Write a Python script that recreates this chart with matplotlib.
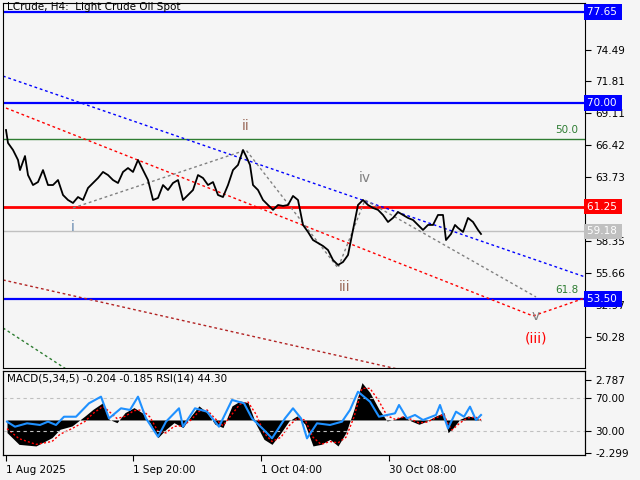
import matplotlib
matplotlib.use("Agg")
import matplotlib.pyplot as plt

# price path (bar position, price)
bar_x = [3, 5, 10, 15, 17, 22, 25, 30, 35, 40, 45, 50, 55, 60, 65, 70, 75, 80, 85, 90,
         95, 100, 105, 110, 115, 120, 125, 130, 135, 140, 145, 150, 155, 160, 165, 170,
         175, 180, 185, 190, 195, 200, 205, 210, 215, 220, 225, 230, 235, 240, 243, 247,
         250, 255, 260, 265, 270, 275, 280, 285, 290, 295, 300, 305, 310, 315, 320, 325,
         330, 335, 340, 345, 350, 355, 360, 365, 370, 375, 380, 385, 390, 395, 400, 405,
         410, 415, 420, 425, 430, 435, 440, 443, 448, 452, 455, 460, 465, 470, 475, 478]
close = [67.72, 66.63, 66.04, 65.20, 64.35, 65.53, 63.93, 63.09, 63.34, 64.35, 63.09, 63.09,
         63.51, 62.25, 61.83, 61.58, 62.08, 61.83, 62.84, 63.26, 63.68, 64.19, 63.93, 63.51,
         63.26, 64.19, 64.52, 64.19, 65.20, 64.35, 63.51, 61.83, 62.00, 63.09, 62.67, 63.26,
         63.51, 61.83, 62.25, 62.67, 63.93, 63.68, 63.09, 63.34, 62.25, 62.08, 63.09, 64.35,
         64.78, 66.04, 65.53, 64.78, 63.09, 62.67, 61.83, 61.41, 61.00, 61.41, 61.33, 61.41,
         62.17, 61.83, 59.73, 59.14, 58.46, 58.21, 57.96, 57.62, 56.78, 56.36, 56.61, 57.20,
         59.31, 61.41, 61.83, 61.41, 61.16, 61.00, 60.57, 59.98, 60.32, 60.82, 60.57, 60.32,
         60.15, 59.73, 59.31, 59.73, 59.73, 60.57, 60.57, 58.46, 58.97, 59.73, 59.48, 59.14,
         60.32, 59.98, 59.31, 58.97]

levels = {77.65: "#0000ff", 70.00: "#0000ff", 61.25: "#ff0000", 53.50: "#0000ff"}
last_price = 59.18
fib50 = 66.96
price_ticks = [74.49, 71.81, 69.11, 66.42, 63.73, 58.35, 55.66, 52.97, 50.28]

wave_x = [70, 243, 335, 362, 533]
wave_y = [61.16, 66.04, 56.11, 61.83, 53.67]
wave_names = ["i", "ii", "iii", "iv", "v"]

# indicator pane
macd_x = [4, 16, 33, 49, 57, 69, 82, 90, 100, 106, 114, 122, 131, 139, 147, 155, 163, 171,
          180, 188, 196, 204, 212, 220, 229, 237, 245, 253, 261, 269, 278, 286, 294, 302,
          310, 318, 327, 335, 343, 351, 359, 367, 376, 384, 392, 400, 408, 416, 424, 433,
          441, 445, 449, 457, 465, 473, 478]
macd = [-0.88, -1.70, -1.81, -1.23, -0.65, -0.42, 0.28, 0.74, 1.21, 0.05, -0.19, 0.51, 0.86,
        0.51, -0.19, -1.23, -0.65, -0.19, -0.53, 0.28, 0.98, 0.51, -0.30, -0.53, 0.98, 1.32,
        1.21, -0.30, -1.35, -1.70, -0.88, -0.07, 0.28, -0.30, -1.81, -1.70, -1.35, -1.81,
        -0.88, 0.74, 2.60, 1.90, 0.74, -0.07, 0.05, 0.28, -0.07, -0.30, -0.07, 0.28, 0.51,
        -0.88, -0.65, 0.05, 0.28, 0.16, -0.07]
signal = [-0.60, -1.30, -1.70, -1.50, -1.00, -0.60, -0.10, 0.45, 0.95, 0.60, 0.10, 0.25, 0.65,
          0.70, 0.20, -0.80, -0.90, -0.45, -0.40, 0.00, 0.60, 0.70, 0.10, -0.40, 0.40, 1.10,
          1.25, 0.40, -0.90, -1.50, -1.20, -0.40, 0.10, 0.00, -1.20, -1.70, -1.50, -1.60,
          -1.20, 0.20, 2.20, 2.20, 1.30, 0.30, 0.05, 0.20, 0.05, -0.20, -0.15, 0.15, 0.40,
          -0.30, -0.70, -0.20, 0.15, 0.20, 0.00]
rsi_x = [4, 12, 24, 37, 45, 53, 61, 73, 86, 98, 106, 118, 127, 135, 143, 155, 163, 176, 180,
         192, 204, 216, 229, 241, 249, 261, 269, 282, 290, 298, 304, 314, 327, 339, 347, 355,
         367, 376, 392, 396, 404, 412, 420, 433, 437, 445, 453, 461, 467, 473, 478]
rsi = [41.3, 35.2, 39.3, 37.3, 41.3, 37.3, 47.3, 47.3, 63.6, 71.6, 45.3, 57.5, 55.5, 71.6,
       45.3, 23.1, 41.3, 57.5, 35.2, 57.5, 53.4, 35.2, 67.6, 63.6, 45.3, 31.2, 21.1, 45.3,
       57.5, 45.3, 21.1, 39.3, 37.3, 41.3, 55.5, 77.6, 65.5, 47.3, 51.4, 61.5, 45.3, 49.4,
       43.3, 49.4, 61.5, 33.2, 53.4, 47.3, 59.5, 43.3, 49.4]
time_ticks = [3, 130, 258, 386]
time_labels = ["1 Aug 2025", "1 Sep 20:00", "1 Oct 04:00", "30 Oct 08:00"]

bg = "#f5f5f5"
fig = plt.figure(figsize=(6.4, 4.8), dpi=100, facecolor=bg)
ax = fig.add_axes([3 / 640, 112 / 480, 582 / 640, 365 / 480], facecolor=bg)
ax.set_xlim(0, 582)
ax.set_ylim(47.69, 78.41)

for lv, c in levels.items():
    ax.axhline(lv, color=c, lw=2 if c == "#ff0000" else 1.6)
ax.axhline(last_price, color="#c0c0c0", lw=1)
ax.axhline(fib50, color="#2e7d32", lw=1)

ax.plot([0, 585], [72.26, 55.27], color="#0000ff", lw=1, ls=(0, (2, 2)))
ax.plot([3, 530, 585], [69.57, 52.07, 53.67], color="#ff0000", lw=1, ls=(0, (2, 2)))
ax.plot([0, 400], [55.10, 47.5], color="#b22222", lw=1, ls=(0, (2, 2)))
ax.plot([0, 65], [51.06, 47.5], color="#2e7d32", lw=1, ls=(0, (2, 2)))
ax.plot(wave_x, wave_y, color="#808080", lw=1, ls=(0, (2, 2)))

ax.plot(bar_x, close, color="black", lw=1.3)

name_off = [(0, -14), (0, 17), (5, -14), (0, 16), (0, -14)]
name_col = ["#6a8bb0", "#9a6a5a", "#9a6a5a", "#808080", "#808080"]
for x, y, n, o, c in zip(wave_x, wave_y, wave_names, name_off, name_col):
    ax.annotate(n, (x, y), xytext=o, textcoords="offset points", ha="center",
                va="center", fontsize=10, color=c)
ax.annotate("(iii)", (533, 53.67), xytext=(0, -30), textcoords="offset points",
            ha="center", va="center", fontsize=10, color="#ff0000")
ax.text(575, fib50 + 0.3, "50.0", color="#2e7d32", fontsize=7.5, ha="right", va="bottom")
ax.text(575, 53.50 + 0.3, "61.8", color="#2e7d32", fontsize=7.5, ha="right", va="bottom")
ax.text(4, 78.1, "LCrude, H4:  Light Crude Oil Spot", fontsize=7.5, va="center")

ax.yaxis.tick_right()
ax.set_yticks(price_ticks)
ax.set_yticklabels([f"{t:.2f}" for t in price_ticks])
ax.tick_params(axis="y", labelsize=7.5, length=4, direction="out")
ax.set_xticks([])
for lv, c in list(levels.items()) + [(last_price, "#c0c0c0")]:
    ax.text(1.003, lv, f"{lv:.2f} ", transform=ax.get_yaxis_transform(), color="white",
            fontsize=7.5, va="center", ha="left", zorder=10, clip_on=False,
            bbox=dict(boxstyle="square,pad=0.25", fc=c, ec="none"))
for s in ax.spines.values():
    s.set_linewidth(0.8)

pane = fig.add_axes([3 / 640, 25 / 480, 582 / 640, 84 / 480], facecolor=bg)
pane.set_xlim(0, 582)
pane.set_ylim(-2.44, 3.41)
pane.fill_between(macd_x, 0, macd, color="black", lw=0)
pane.plot(macd_x, signal, color="#ff0000", lw=1, ls=(0, (1.5, 1.5)))
pane.set_xticks(time_ticks)
pane.set_xticklabels(time_labels, ha="left")
pane.tick_params(axis="x", labelsize=7.5, length=4, direction="out")

r = pane.twinx()
r.set_ylim(0.9, 102.7)
r.axhline(70, color="#c0c0c0", lw=0.8, ls=(0, (3, 3)))
r.axhline(30, color="#c0c0c0", lw=0.8, ls=(0, (3, 3)))
r.plot(rsi_x, rsi, color="#1e90ff", lw=1.5)
r.set_yticks([70, 30])
r.set_yticklabels(["70.00", "30.00"])
r.tick_params(axis="y", labelsize=7.5, length=4)

pane.yaxis.tick_right()
pane.set_yticks([2.787, -2.299])
pane.set_yticklabels(["2.787", "-2.299"])
pane.tick_params(axis="y", labelsize=7.5, length=4, left=False, labelleft=False,
                 right=True, labelright=True)
pane.text(4, 2.9, "MACD(5,34,5) -0.204 -0.185 RSI(14) 44.30", fontsize=7.5, va="center")

fig.savefig("out.png", dpi=100, facecolor=bg)
